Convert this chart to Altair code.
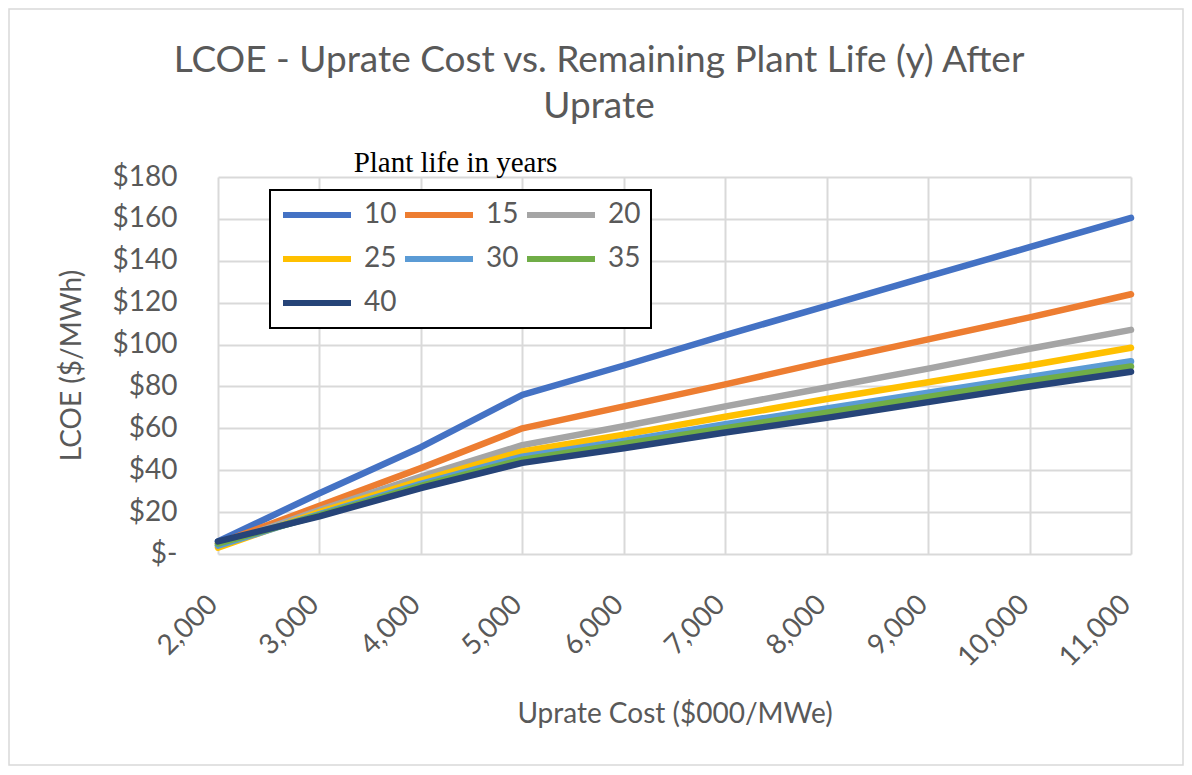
import altair as alt
import pandas as pd

# ---- data ----
costs = [2000, 3000, 4000, 5000, 6000, 7000, 8000, 9000, 10000, 11000]
life_10 = [6, 29, 51, 76, 90, 104.5, 118.5, 132.5, 146.5, 160.5]
life_15 = [5, 23, 41, 60, 70.5, 81, 92, 102.5, 113, 124]
life_20 = [4, 21, 37, 52, 61, 70.5, 79.5, 88.5, 98, 107]
life_25 = [3, 20, 35, 49, 57, 65.5, 74, 82, 90, 98.5]
life_30 = [4, 19, 33.5, 46.5, 54, 62, 69.5, 77, 84.5, 92]
life_35 = [5, 18.5, 32.5, 45, 52.5, 60, 67.5, 75, 82.5, 89.5]
life_40 = [6, 18, 31.5, 43.5, 50.5, 58, 65, 72.5, 80, 87]

series_names = ["10", "15", "20", "25", "30", "35", "40"]
series_values = [life_10, life_15, life_20, life_25, life_30, life_35, life_40]
series_colors = ["#4472C4", "#ED7D31", "#A5A5A5", "#FFC000", "#5B9BD5", "#70AD47", "#264478"]

x_ticks = [2000, 3000, 4000, 5000, 6000, 7000, 8000, 9000, 10000, 11000]
y_ticks = [0, 20, 40, 60, 80, 100, 120, 140, 160, 180]

title_text = ["LCOE - Uprate Cost vs. Remaining Plant Life (y) After\nUprate"]
x_title = "Uprate Cost ($000/MWe)"
y_title = "LCOE ($/MWh)"
legend_title = ["Plant life in years"]

rows = []
for name, vals in zip(series_names, series_values):
    for c, v in zip(costs, vals):
        rows.append({"cost": c, "lcoe": v, "life": name})
df = pd.DataFrame(rows)

FONT = "Lato"
GRAY = "#595959"
GRID = "#d9d9d9"

lines = alt.Chart(df).mark_line(strokeWidth=6.5, strokeCap="round", strokeJoin="round").encode(
    x=alt.X(
        "cost:Q",
        scale=alt.Scale(domain=[2000, 11000], nice=False, zero=False),
        axis=alt.Axis(
            values=x_ticks, labelExpr="format(datum.value, ',')", labelAngle=315,
            labelAlign="right", labelBaseline="middle",
            labelPadding=46, labelOffset=-5, labelFontSize=28, labelColor=GRAY, labelFont=FONT,
            title=x_title, titleFontSize=28, titleFont=FONT, titleColor=GRAY, titleFontWeight="normal",
            titleY=168, titleBaseline="alphabetic",
            grid=True, gridColor=GRID, gridWidth=2, domain=False, ticks=False,
        ),
    ),
    y=alt.Y(
        "lcoe:Q",
        scale=alt.Scale(domain=[0, 180], nice=False),
        axis=alt.Axis(
            values=y_ticks, labelExpr="datum.value == 0 ? '$-' : '$' + datum.value",
            labelPadding=41, labelFontSize=28, labelColor=GRAY, labelFont=FONT,
            title=y_title, titleFontSize=28, titleFont=FONT, titleColor=GRAY, titleFontWeight="normal",
            titleX=-146, titleY=188, titleBaseline="middle", titleAlign="center",
            grid=True, gridColor=GRID, gridWidth=2, domain=False, ticks=False,
        ),
    ),
    color=alt.Color(
        "life:N",
        scale=alt.Scale(domain=series_names, range=series_colors),
        sort=series_names,
        legend=alt.Legend(
            title=None, orient="none", legendX=52, legendY=13, columns=3, direction="horizontal",
            symbolType="stroke", symbolSize=4624, symbolStrokeWidth=6, clipHeight=30,
            rowPadding=14, columnPadding=5, labelFontSize=28, labelFont=FONT, labelColor=GRAY,
            labelOffset=10, padding=10, strokeColor="black", fillColor="white",
        ),
    ),
)

title_mark = alt.Chart(pd.DataFrame({"t": title_text})).mark_text(
    font=FONT, fontSize=37, color=GRAY, align="center", baseline="alphabetic",
    lineBreak="\n", lineHeight=46,
).encode(x=alt.value(381), y=alt.value(-105), text="t:N")

legend_title_mark = alt.Chart(pd.DataFrame({"t": legend_title})).mark_text(
    font="Liberation Serif", fontSize=29, color="black", align="center", baseline="alphabetic"
).encode(x=alt.value(237.5), y=alt.value(-5), text="t:N")

frame = alt.Chart(pd.DataFrame({"t": ["frame"]})).mark_rect(
    fillOpacity=0, stroke=GRID, strokeWidth=1.5
).encode(x=alt.value(-209), x2=alt.value(965), y=alt.value(-168), y2=alt.value(588))

chart = alt.layer(frame, lines, title_mark, legend_title_mark).properties(
    width=913, height=377,
    autosize=alt.AutoSizeParams(type="none"),
    padding={"left": 210, "top": 169, "right": 53, "bottom": 213},
).configure_view(strokeWidth=0).configure_legend(strokeWidth=2)

chart.save("out.html", embed_options={"renderer": "svg", "actions": False})
